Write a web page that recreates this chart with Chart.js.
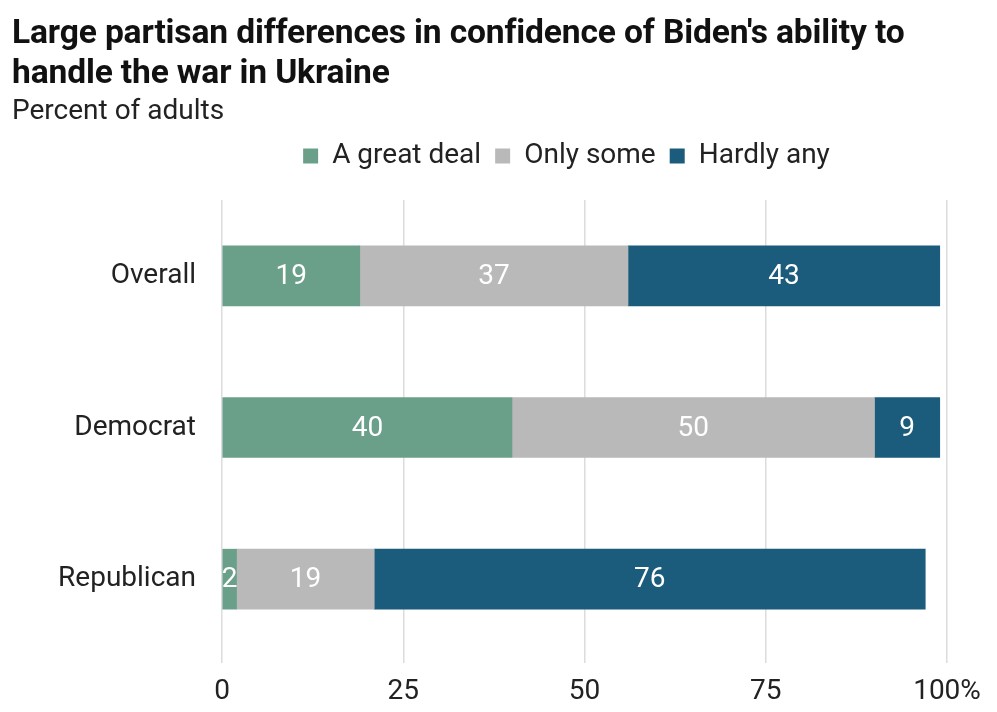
<!DOCTYPE html>
<html>
<head>
<meta charset="utf-8">
<script src="https://cdn.jsdelivr.net/npm/chart.js@4/dist/chart.umd.min.js"></script>
<style>
  html,body{margin:0;padding:0;background:#fff;}
  #wrap{position:relative;width:997px;height:712px;overflow:hidden;font-family:Roboto,"Noto Sans",sans-serif;}
  #title{position:absolute;left:12px;top:12px;font-weight:700;font-size:33.6px;line-height:40px;color:#111;letter-spacing:-0.15px;white-space:nowrap;}
  #sub{position:absolute;left:12px;top:94px;font-size:28px;line-height:32px;color:#222;}
  canvas{position:absolute;left:0;top:0;}
</style>
</head>
<body>
<div id="wrap">
  <canvas id="c" width="997" height="712"></canvas>
  <div id="title">Large partisan differences in confidence of Biden's ability to<br>handle the war in Ukraine</div>
  <div id="sub">Percent of adults</div>
</div>
<script>
const categories = ["Overall", "Democrat", "Republican"];
const greatDeal = [19, 40, 2];
const onlySome = [37, 50, 19];
const hardlyAny = [43, 9, 76];
const xTicks = [0, 25, 50, 75, 100];

const seriesNames = ["A great deal", "Only some", "Hardly any"];
const seriesColors = ["#6aa08a", "#b9b9b9", "#1b5b7b"];

const labelPlugin = {
  id: "segLabels",
  afterDatasetsDraw(chart) {
    const ctx = chart.ctx;
    ctx.save();
    ctx.font = "28px Roboto";
    ctx.fillStyle = "#ffffff";
    ctx.textAlign = "center";
    ctx.textBaseline = "middle";
    chart.data.datasets.forEach((ds, di) => {
      const meta = chart.getDatasetMeta(di);
      meta.data.forEach((el, i) => {
        const p = el.getCenterPoint();
        ctx.fillText(String(ds.data[i]), p.x, p.y + 1);
      });
    });
    ctx.restore();
  }
};

const legendTweak = {
  id: "legendTweak",
  beforeLayout(chart) {
    const lg = chart.legend;
    if (lg && !lg._patched) {
      const f = lg.fit.bind(lg);
      lg.fit = function () { f(); this.height += 20; };
      lg._patched = true;
    }
  },
  beforeDraw(chart) {
    const lg = chart.legend;
    if (lg) { lg.left = 136; lg.right = 997; }
  }
};

new Chart(document.getElementById("c"), {
  type: "bar",
  data: {
    labels: categories,
    datasets: [
      { label: seriesNames[0], data: greatDeal, backgroundColor: seriesColors[0] },
      { label: seriesNames[1], data: onlySome, backgroundColor: seriesColors[1] },
      { label: seriesNames[2], data: hardlyAny, backgroundColor: seriesColors[2] }
    ]
  },
  options: {
    indexAxis: "y",
    responsive: false,
    animation: false,
    devicePixelRatio: 1,
    barThickness: 60,
    layout: { padding: { top: 128, left: 12, right: 50, bottom: 0 } },
    plugins: {
      legend: {
        position: "top",
        align: "center",
        labels: {
          font: { family: "Roboto", size: 28 },
          color: "#222",
          boxWidth: 15,
          boxHeight: 15,
          padding: 14
        }
      },
      tooltip: { enabled: false },
      title: { display: false }
    },
    scales: {
      x: {
        stacked: true,
        min: 0,
        max: 100,
        afterBuildTicks(scale) { scale.ticks = xTicks.map(v => ({ value: v })); },
        afterFit(scale) { scale.paddingRight = 0; scale.paddingLeft = 0; scale.height = 57; },
        ticks: {
          font: { family: "Roboto", size: 28 },
          color: "#222",
          padding: 12,
          maxRotation: 0,
          callback: (v) => v === 100 ? "100%" : String(v)
        },
        grid: { color: "#dcdcdc", lineWidth: 1.5, tickLength: 8, drawTicks: true },
        border: { display: false }
      },
      y: {
        stacked: true,
        afterFit(scale) { scale.width = 210; },
        ticks: {
          font: { family: "Roboto", size: 28 },
          color: "#222",
          padding: 18
        },
        grid: { display: false },
        border: { display: false }
      }
    }
  },
  plugins: [labelPlugin, legendTweak]
});
</script>
</body>
</html>
